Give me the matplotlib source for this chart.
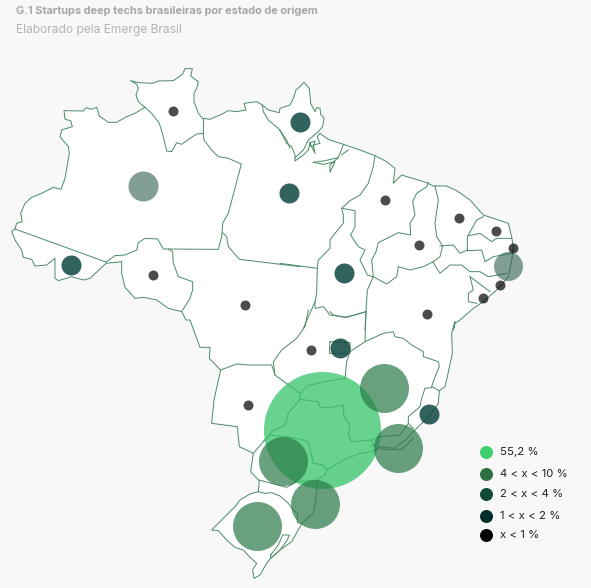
import matplotlib
matplotlib.use("Agg")
import matplotlib.pyplot as plt
from matplotlib.patches import Polygon

BG = "#f8f8f8"; LINE = "#4a8a66"
plt.rcParams['font.family'] = ['Inter', 'DejaVu Sans']

# State markers: image-space location, radius class
states = ["RR","AP","AM","PA","AC","RO","MT","MA","PI","CE","RN","PB","PE","AL","SE","TO","BA","GO","DF","MS","MG","ES","SP","RJ","PR","SC","RS"]
state_x = [173,300,142.8,288.7,71,153.3,245.3,385,418.5,459,496,513,508,500,483,344,426.5,311,339.5,248,383.8,429,321.7,398.3,283.3,315.3,257]
state_y = [111,122,185.5,193,265,275,304.5,200,245,218,231,248,266,285,298,273,313.5,350,348,405,387.8,413.5,429.7,447.7,461,504.3,525.7]
state_r = [5,10,15,10,10,5,5,5,5,5,5,5,14.5,5,5,10,5,5,10,5,24.5,10,58.5,24.5,24.5,24.5,24.5]
COL = {5:("#000000",.70),10:("#0b4540",.84),14.5:("#2f5f50",.60),15:("#2f5f50",.60),24.5:("#2a7a48",.70),58.5:("#38c46c",.76)}

legend_labels = ["55,2 %","4 < x < 10 %","2 < x < 4 %","1 < x < 2 %","x < 1 %"]
legend_colors = ["#3ecf6f","#2a7040","#114a36","#002d2b","#000000"]
legend_y = [451.7,474,494.3,516,534.7]

# Border geometry, traced on three enlarged crops of the map
def f1(p): return [(x/3, y/3+50) for x,y in p]
def f2(p): return [(x/3+280, y/3+60) for x,y in p]
def f3(p): return [(x/3+200, y/3+310) for x,y in p]

north_f1 = [(45,537),(50,520),(67,515),(62,490),(75,460),(95,442),(125,430),(160,412),(183,418),(195,385),(208,310),(205,290),(180,260),(185,240),(217,230),(212,212),(195,208),(192,182),(250,183),(258,173),(275,178),(290,172),(298,198),(325,217),(350,217),(380,200),(405,190),(435,172),(415,155),(408,135),(415,115),(410,103),(392,92),(415,98),(458,100),(475,93),(520,92),(548,72),(555,56),(577,56),(572,78),(595,95),(590,115),(582,130),(582,155),(595,190),(607,205),(630,208),(660,195),(685,182),(710,185),(738,180),(732,160),(770,155),(787,165),(805,180),(838,188),(840,175),(870,165),(880,145),(888,120),(900,110)]
northeast_f2 = [(72,67),(88,85),(92,130),(105,155),(110,143),(120,145),(122,163),(132,175),(128,200),(115,215),(85,240),(70,270),(45,293),(45,303),(70,285),(85,270),(90,250),(105,280),(100,255),(120,250),(112,230),(120,220),(140,235),(150,240),(190,253),(240,270),(285,287),(320,305),(345,325),(340,370),(365,345),(440,368),(460,378),(500,378),(530,392),(570,420),(610,465),(640,475),(685,490),(695,530),(700,565),(695,600),(685,650),(650,690),(610,725),(580,745),(540,780),(525,790),(520,810)]
southeast_f3 = [(765,35),(755,70),(757,130),(742,200),(735,230),(718,242),(715,280),(690,315),(640,365),(610,395),(580,415),(545,410),(515,425),(480,430),(435,448),(380,480),(375,495),(355,505),(345,580),(340,610),(310,635),(300,650),(275,695),(240,720),(212,745),(200,760),(180,795),(162,805),(158,780),(170,760),(150,742),(130,720),(105,712),(80,690),(55,662),(35,660),(50,645),(70,625),(90,605),(105,590),(120,570),(150,552),(175,545),(178,513),(152,485),(160,430),(118,410),(112,350),(35,340),(42,270),(62,180),(28,145),(30,112),(0,112)]
southwest_f1 = [(570,810),(558,810),(545,785),(505,775),(470,750),(430,742),(405,745),(375,712),(365,670),(365,635),(318,640),(270,685),(250,690),(215,680),(175,692),(165,685),(165,625),(140,645),(105,648),(95,628),(70,622),(65,600),(45,570),(35,545)]

borders_f1 = [
 [(45,537),(318,636)],
 [(318,636),(345,617),(375,615),(410,600),(415,578),(435,565),(473,567),(490,597),(655,598),(665,560),(668,520),(685,490),(724,342),(685,325),(655,320),(635,300),(612,270),(609,250),(590,252),(560,272),(545,283),(530,278),(515,305),(500,303),(490,260),(478,220),(455,190),(435,172)],
 [(609,205),(609,250)],
 [(505,597),(518,605),(520,640),(535,680),(578,695),(578,720),(570,745),(545,785)],
 [(668,548),(680,560),(685,590),(718,628),(900,650)],
 [(787,165),(790,185),(805,210),(835,235),(860,270),(870,295)],
]
borders_f2 = [
 [(0,210),(20,250),(35,260),(45,285),(45,293)],
 [(0,610),(112,625),(115,600),(150,565),(150,540),(165,520),(190,490),(190,465),(185,445),(210,422),(240,405),(265,370),(280,320),(285,287)],
 [(185,445),(225,452),(225,500),(212,525),(235,560),(255,570),(240,600),(262,645),(280,650)],
 [(445,368),(440,380),(410,400),(398,425),(405,465),(390,490),(392,525),(355,518),(295,548),(288,575),(275,600),(280,650)],
 [(105,725),(105,745),(130,740),(150,765),(195,772),(235,762),(258,755)],
 [(280,650),(262,690),(258,755),(255,810)],
 [(112,625),(110,700),(105,725),(70,805)],
 [(280,650),(320,672),(350,650),(355,620),(390,630),(430,620),(460,605)],
 [(465,378),(475,420),(465,490),(470,530),(488,558),(480,590),(460,605)],
 [(480,558),(520,555),(540,580),(562,570)],
 [(562,570),(562,530),(590,480),(610,470)],
 [(565,527),(600,520),(635,545),(650,535),(695,535)],
 [(562,572),(605,570),(615,605),(640,590),(695,580)],
 [(460,608),(480,640),(510,615),(545,615),(570,635),(600,635),(625,650),(680,640)],
 [(570,650),(630,695)],
 [(570,650),(580,690),(565,700),(565,725),(590,730)],
 [(100,307),(130,303),(175,293),(190,255)],
 [(175,293),(150,315),(150,337),(165,305),(130,313),(100,307)],
 [(90,248),(105,243),(100,258),(90,258),(90,248)],
 [(185,285),(205,270)],
]
borders_f3 = [
 [(498,5),(495,95),(550,70),(580,65),(585,80),(610,85),(635,105),(670,125),(670,140),(715,155),(718,170),(705,200),(695,230),(718,242)],
 [(390,5),(400,15),(440,22),(498,5)],
 [(495,95),(450,125),(440,155),(435,205)],
 [(695,233),(675,235),(665,265),(660,290),(625,320),(625,340),(640,355)],
 [(625,340),(600,375),(540,380),(515,390),(525,410)],
 [(510,410),(525,405),(550,418),(605,418),(640,385)],
 [(515,390),(455,395),(445,375),(450,345),(432,320),(430,285),(395,292),(360,292),(355,275),(300,268)],
 [(300,268),(300,250),(320,228),(375,215),(435,205)],
 [(325,0),(315,50),(290,85),(245,120),(220,155),(225,195),(300,250)],
 [(62,180),(110,162),(145,165),(215,165),(225,195)],
 [(300,268),(265,310),(255,345),(215,365),(190,395),(160,430)],
 [(190,395),(210,375),(290,385),(325,395),(340,460),(370,465),(380,480)],
 [(178,510),(215,520),(260,532),(290,515),(355,510)],
 [(175,545),(195,550),(215,548),(240,558),(265,580),(280,600),(292,610),(292,638),(305,640)],
 [(390,95),(450,98),(450,130),(388,130),(390,95)],
 [(212,735),(235,705),(248,675),(268,675),(262,690),(240,720),(212,745),(212,735)],
]

fig = plt.figure(figsize=(5.91,5.88), dpi=100, facecolor=BG)
ax = fig.add_axes([0,0,1,1])
ax.set_xlim(0,591); ax.set_ylim(588,0); ax.axis("off")

outline = f1(north_f1)+f2(northeast_f2)+f3(southeast_f3)+f1(southwest_f1)
ax.add_patch(Polygon(outline, closed=True, facecolor="white", edgecolor=LINE, lw=0.7, joinstyle="round", zorder=1))
for frame, group in ((f1,borders_f1),(f2,borders_f2),(f3,borders_f3)):
    for seg in group:
        pts = frame(seg)
        ax.plot([p[0] for p in pts],[p[1] for p in pts], color=LINE, lw=0.7, solid_joinstyle="round", zorder=2)

def area(r):  # pixel radius to scatter size
    return (2*r*72/100)**2

for x,y,r in sorted(zip(state_x,state_y,state_r), key=lambda t:-t[2]):
    c,a = COL[r]
    ax.scatter([x],[y], s=area(r), color=c, alpha=a, linewidths=0, zorder=3)

for lab,c,y in zip(legend_labels,legend_colors,legend_y):
    ax.scatter([486],[y], s=area(6.5), color=c, linewidths=0, zorder=3)
    ax.text(500,y,lab,fontsize=8.2,color="#222222",va="center",ha="left")

ax.text(16,11,"G.1 Startups deep techs brasileiras por estado de origem",fontsize=7.9,fontweight="bold",color="#a6a6a6",va="center",ha="left")
ax.text(16,29.5,"Elaborado pela Emerge Brasil",fontsize=8.7,color="#b4b4b4",va="center",ha="left")
fig.savefig("out.png", dpi=100, facecolor=BG)
